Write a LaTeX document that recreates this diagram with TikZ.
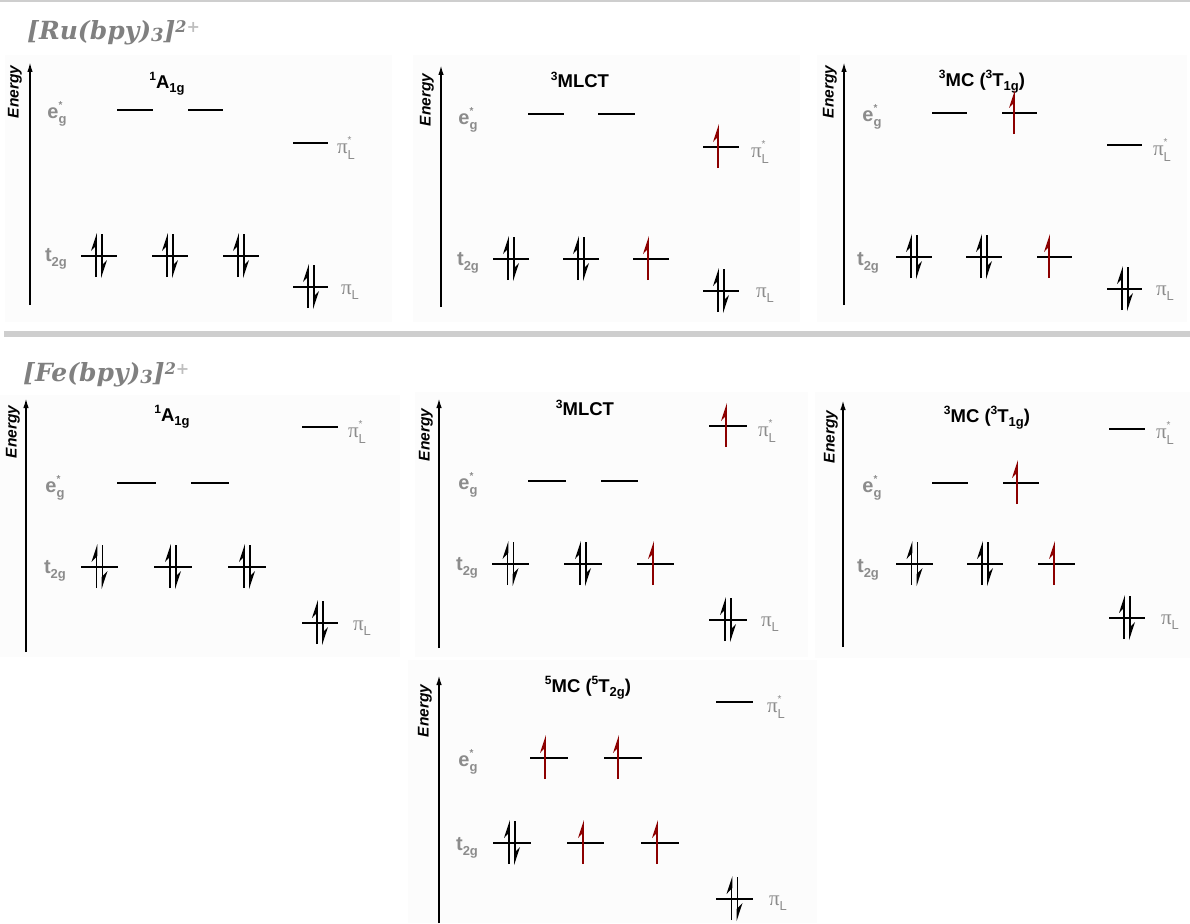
\documentclass[tikz,border=0pt]{standalone}
\usepackage{fontspec}
\setmainfont{Liberation Sans}
\newfontfamily\hdfont{DejaVu Serif}
\newfontfamily\pifont{Liberation Serif}
\usetikzlibrary{arrows.meta}
\definecolor{lblgray}{RGB}{140,140,140}
\definecolor{hdgray}{RGB}{128,128,128}
\definecolor{plusgray}{RGB}{190,190,190}
\definecolor{sepgray}{RGB}{206,206,206}
\definecolor{panelbg}{RGB}{252,252,252}
\definecolor{ered}{RGB}{140,0,0}
\tikzset{
 lvl/.style={line width=1.8pt},
 eline/.style={line width=1.8pt},
 axisline/.style={line width=1.7pt,-{Latex[length=10pt,width=5.5pt]}},
 ttl/.style={font=\fontsize{18.5}{20}\selectfont\bfseries, inner sep=0pt},
 enlbl/.style={font=\fontsize{15.5}{16}\selectfont\bfseries\itshape, rotate=90, inner sep=0pt},
 orb/.style={text=lblgray, font=\fontsize{20}{22}\selectfont\bfseries, inner sep=0pt},
 pilbl/.style={text=lblgray, inner sep=0pt, font=\fontsize{18}{20}\selectfont},
 hdr/.style={text=hdgray, anchor=base west, inner sep=0pt, font=\hdfont\fontsize{25}{28}\selectfont\bfseries\itshape},
 panel/.style={fill=panelbg, draw=none},
}
\newcommand{\sps}[1]{{\fontsize{12}{12}\selectfont\raisebox{7.5pt}{#1}}}
\newcommand{\sbs}[1]{{\fontsize{13}{13}\selectfont\raisebox{-4.5pt}{#1}}}
\newcommand{\eg}{e\rlap{\raisebox{10pt}{\fontsize{10}{10}\selectfont *}}\raisebox{-5.5pt}{\fontsize{13}{13}\selectfont g}}
\newcommand{\tg}{t\raisebox{-5.5pt}{\fontsize{13}{13}\selectfont 2g}}
\newcommand{\pis}{{\pifont\fontsize{21}{21}\selectfont π}\rlap{\raisebox{10pt}{\fontsize{10}{10}\selectfont *}}\raisebox{-5.5pt}{\fontsize{13}{13}\selectfont L}}
\newcommand{\pil}{{\pifont\fontsize{21}{21}\selectfont π}\raisebox{-5.5pt}{\fontsize{13}{13}\selectfont L}}
\newcommand{\Lv}[3]{\draw[lvl] (#1,#3) -- (#2,#3);}
\newcommand{\Up}[3][black]{%
  \draw[eline,#1] (#2,#3+21) -- (#2,#3-17);
  \fill[#1] (#2+0.9,#3-23) -- (#2-5,#3-5) -- (#2+0.9,#3-11) -- cycle;}
\newcommand{\Dn}[2]{%
  \draw[eline] (#1,#2-22) -- (#1,#2+16);
  \fill (#1-0.9,#2+22) -- (#1+5,#2+4) -- (#1-0.9,#2+10) -- cycle;}
\newcommand{\Pair}[2]{\Up{#1-3}{#2}\Dn{#1+3}{#2}}
\newcommand{\Red}[2]{\Up[ered]{#1-3}{#2}}
\begin{document}
\begin{tikzpicture}[x=1pt,y=-1pt]
\useasboundingbox (0,0) rectangle (1190,923);
% separators
\fill[sepgray] (0,0) rectangle (1190,2.5);
\fill[sepgray] (4,331) rectangle (1190,337);
% panel backgrounds
\fill[panel] (5,55) rectangle (392,322);
\fill[panel] (413,55) rectangle (800,322);
\fill[panel] (817,55) rectangle (1187,322);
\fill[panel] (0,395) rectangle (400,657);
\fill[panel] (415,392) rectangle (808,657);
\fill[panel] (815,392) rectangle (1190,658);
\fill[panel] (408,660) rectangle (817,923);
% headers
\node[hdr] (ruhdr) at (27,40) {[Ru(bpy)\raisebox{-2pt}{\fontsize{18}{18}\selectfont 3}]\raisebox{7pt}{\fontsize{16}{16}\selectfont 2\textcolor{plusgray}{+}}};
\node[hdr] (fehdr) at (23,381) {[Fe(bpy)\raisebox{-2pt}{\fontsize{18}{18}\selectfont 3}]\raisebox{7pt}{\fontsize{16}{16}\selectfont 2\textcolor{plusgray}{+}}};

%%%%% Ru panel 1
\coordinate (ru1b) at (30,305); \coordinate (ru1t) at (30,62);
\draw[axisline] (ru1b) -- (ru1t);
\node[enlbl] (ru1en) at (15,92) {Energy};
\node[ttl] (ru1ttl) at (167,84) {\sps{1}A\sbs{1g}};
\Lv{117}{153}{110} \Lv{188}{223}{110}
\Lv{293}{328}{143}
\Lv{81}{117}{256}\Pair{99}{256}
\Lv{152}{188}{256}\Pair{170}{256}
\Lv{223}{259}{256}\Pair{241}{256}
\Lv{293}{328}{287}\Pair{311}{287}
\node[orb] (ru1eg) at (57,114) {\eg};
\node[orb] (ru1tg) at (56,259) {\tg};
\node[pilbl] (ru1ps) at (346,148) {\pis};
\node[pilbl] (ru1pl) at (350,292) {\pil};

%%%%% Ru panel 2
\coordinate (ru2b) at (441,307); \coordinate (ru2t) at (441,65);
\draw[axisline] (ru2b) -- (ru2t);
\node[enlbl] (ru2en) at (427,100) {Energy};
\node[ttl] (ru2ttl) at (580,80) {\sps{3}MLCT};
\Lv{528}{564}{114} \Lv{598}{635}{114}
\Lv{703}{739}{147}\Red{721}{147}
\Lv{493}{529}{259}\Pair{511}{259}
\Lv{563}{599}{259}\Pair{581}{259}
\Lv{633}{669}{259}\Red{651}{259}
\Lv{703}{739}{291}\Pair{721}{291}
\node[orb] (ru2eg) at (468,120) {\eg};
\node[orb] (ru2tg) at (468,263) {\tg};
\node[pilbl] (ru2ps) at (760,152) {\pis};
\node[pilbl] (ru2pl) at (765,295) {\pil};

%%%%% Ru panel 3
\coordinate (ru3b) at (844,305); \coordinate (ru3t) at (844,62);
\draw[axisline] (ru3b) -- (ru3t);
\node[enlbl] (ru3en) at (830,92) {Energy};
\node[ttl] (ru3ttl) at (982,82) {\sps{3}MC (\sps{3}T\sbs{1g})};
\Lv{932}{967}{113} \Lv{1002}{1037}{113}\Red{1017}{113}
\Lv{1107}{1142}{145}
\Lv{896}{932}{257}\Pair{914}{257}
\Lv{966}{1002}{257}\Pair{984}{257}
\Lv{1037}{1072}{257}\Red{1052}{257}
\Lv{1107}{1142}{289}\Pair{1125}{289}
\node[orb] (ru3eg) at (872,117) {\eg};
\node[orb] (ru3tg) at (868,263) {\tg};
\node[pilbl] (ru3ps) at (1162,150) {\pis};
\node[pilbl] (ru3pl) at (1165,293) {\pil};

%%%%% Fe panel 1
\coordinate (fe1b) at (26,652); \coordinate (fe1t) at (26,398);
\draw[axisline] (fe1b) -- (fe1t);
\node[enlbl] (fe1en) at (13,432) {Energy};
\node[ttl] (fe1ttl) at (172,417) {\sps{1}A\sbs{1g}};
\Lv{302}{338}{427}
\Lv{117}{156}{483} \Lv{191}{229}{483}
\Lv{81}{118}{567}\Pair{99.5}{567}
\Lv{154}{192}{567}\Pair{173}{567}
\Lv{228}{266}{567}\Pair{247}{567}
\Lv{302}{338}{623}\Pair{320}{623}
\node[orb] (fe1eg) at (55,488) {\eg};
\node[orb] (fe1tg) at (55,571) {\tg};
\node[pilbl] (fe1ps) at (357,432) {\pis};
\node[pilbl] (fe1pl) at (362,628) {\pil};

%%%%% Fe panel 2
\coordinate (fe2b) at (439,648); \coordinate (fe2t) at (439,398);
\draw[axisline] (fe2b) -- (fe2t);
\node[enlbl] (fe2en) at (426,435) {Energy};
\node[ttl] (fe2ttl) at (585,408) {\sps{3}MLCT};
\Lv{709}{747}{426}\Red{729}{426}
\Lv{528}{566}{481} \Lv{601}{638}{481}
\Lv{492}{529}{564}\Pair{510.5}{564}
\Lv{564}{602}{564}\Pair{583}{564}
\Lv{637}{674}{564}\Red{656}{564}
\Lv{709}{747}{620}\Pair{728}{620}
\node[orb] (fe2eg) at (468,485) {\eg};
\node[orb] (fe2tg) at (467,568) {\tg};
\node[pilbl] (fe2ps) at (767,431) {\pis};
\node[pilbl] (fe2pl) at (770,624) {\pil};

%%%%% Fe panel 3
\coordinate (fe3b) at (843,647); \coordinate (fe3t) at (843,400);
\draw[axisline] (fe3b) -- (fe3t);
\node[enlbl] (fe3en) at (831,437) {Energy};
\node[ttl] (fe3ttl) at (987,418) {\sps{3}MC (\sps{3}T\sbs{1g})};
\Lv{1109}{1145}{429}
\Lv{932}{968}{483} \Lv{1003}{1039}{483}\Red{1020}{483}
\Lv{896}{933}{564}\Pair{914.5}{564}
\Lv{967}{1003}{564}\Pair{985}{564}
\Lv{1038}{1075}{564}\Red{1057}{564}
\Lv{1109}{1145}{618}\Pair{1127}{618}
\node[orb] (fe3eg) at (872,488) {\eg};
\node[orb] (fe3tg) at (868,570) {\tg};
\node[pilbl] (fe3ps) at (1165,433) {\pis};
\node[pilbl] (fe3pl) at (1170,622) {\pil};

%%%%% Fe panel 5MC
\coordinate (fe5b) at (439,923); \coordinate (fe5t) at (439,675);
\draw[axisline] (fe5b) -- (fe5t);
\node[enlbl] (fe5en) at (425,711) {Energy};
\node[ttl] (fe5ttl) at (588,688) {\sps{5}MC (\sps{5}T\sbs{2g})};
\Lv{716}{753}{702}
\Lv{530}{568}{758}\Red{548}{758}
\Lv{604}{642}{758}\Red{621}{758}
\Lv{493}{531}{843}\Pair{512}{843}
\Lv{567}{604}{843}\Red{586}{843}
\Lv{641}{679}{843}\Red{660}{843}
\Lv{716}{753}{899}\Pair{734.5}{899}
\node[orb] (fe5eg) at (468,762) {\eg};
\node[orb] (fe5tg) at (467,848) {\tg};
\node[pilbl] (fe5ps) at (776,707) {\pis};
\node[pilbl] (fe5pl) at (778,903) {\pil};
\end{tikzpicture}
\end{document}
